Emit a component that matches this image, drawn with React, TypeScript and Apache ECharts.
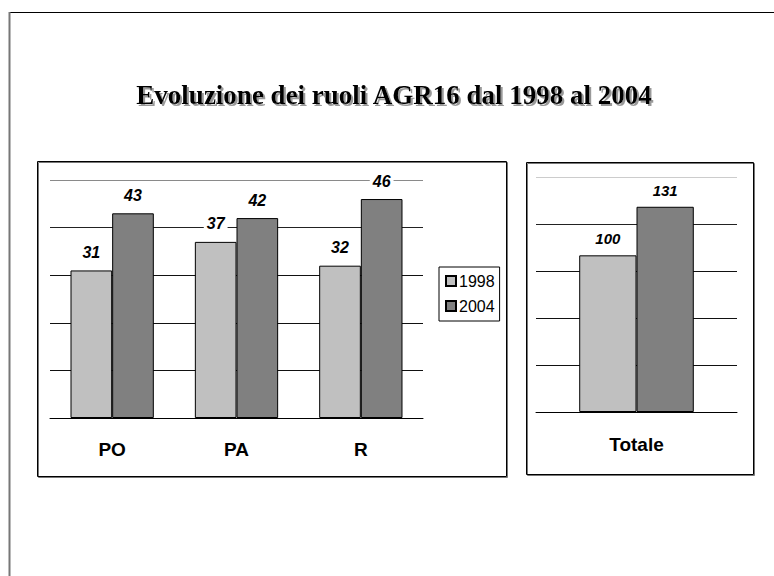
import React, { useEffect, useRef } from "react";
import * as echarts from "echarts";

const title = "Evoluzione dei ruoli AGR16 dal 1998 al 2004";
const categories = ["PO", "PA", "R"];
const totalCategory = ["Totale"];
const seriesNames = ["1998", "2004"];
const values1998 = [31, 37, 32];
const values2004 = [43, 42, 46];
const total1998 = [100];
const total2004 = [131];

const LIGHT = "#c0c0c0";
const DARK = "#808080";
const FONT = "'Liberation Sans', Arial, sans-serif";

export default function App() {
  const ref = useRef<HTMLDivElement>(null);
  useEffect(() => {
    document.body.style.margin = "0";
    if (!ref.current) return;
    const chart = echarts.init(ref.current, undefined, { renderer: "svg" });
    const label = (size: number, dist: number) => ({
      show: true,
      position: "top",
      distance: dist,
      fontFamily: FONT,
      fontWeight: "bold",
      fontStyle: "italic",
      fontSize: size,
      color: "#000",
      backgroundColor: "#fff",
      padding: [0, 3],
    });
    const bar = (name: string, data: number[], color: string, idx: number, gap: string, size: number, dist: number) => ({
      type: "bar",
      name,
      data,
      xAxisIndex: idx,
      yAxisIndex: idx,
      barGap: "0%",
      barCategoryGap: gap,
      itemStyle: { color, borderColor: "#000", borderWidth: 1 },
      label: label(size, dist),
      z: 3,
    });
    const xAxis = (idx: number, data: string[], margin: number) => ({
      type: "category",
      gridIndex: idx,
      data,
      axisTick: { show: false },
      axisLine: { show: true, lineStyle: { color: "#000", width: 1 } },
      axisLabel: { fontFamily: FONT, fontWeight: "bold", fontSize: 19, color: "#000", margin },
    });
    const yAxis = (idx: number, max: number, interval: number, topColor: string) => ({
      type: "value",
      gridIndex: idx,
      min: 0,
      max,
      interval,
      axisLabel: { show: false },
      axisLine: { show: false },
      axisTick: { show: false },
      splitLine: {
        show: true,
        lineStyle: { color: ["#111", "#111", "#111", "#111", "#222", topColor], width: 1 },
      },
    });
    chart.setOption({
      animation: false,
      backgroundColor: "#fff",
      grid: [
        { left: 50, top: 180, width: 373, height: 238 },
        { left: 536, top: 177, width: 201, height: 235 },
      ],
      xAxis: [xAxis(0, categories, 22), xAxis(1, totalCategory, 23)],
      yAxis: [yAxis(0, 50, 10, "#8a8a8a"), yAxis(1, 150, 30, "#cccccc")],
      legend: {
        data: seriesNames,
        orient: "vertical",
        left: 439,
        top: 267,
        icon: "rect",
        itemWidth: 10,
        itemHeight: 10,
        itemGap: 9,
        padding: [6, 5, 7, 6],
        borderColor: "#000",
        borderWidth: 1,
        backgroundColor: "#fff",
        textStyle: { fontFamily: FONT, fontSize: 16, color: "#000", padding: [0, 0, 0, -2] },
        selectedMode: false,
      },
      series: [
        bar(seriesNames[0], values1998, LIGHT, 0, "33%", 16, 10),
        bar(seriesNames[1], values2004, DARK, 0, "33%", 16, 10),
        bar(seriesNames[0], total1998, LIGHT, 1, "43%", 15, 9),
        bar(seriesNames[1], total2004, DARK, 1, "43%", 15, 9),
      ],
      graphic: [
        { type: "line", shape: { x1: 9, y1: 12.5, x2: 774, y2: 12.5 }, style: { stroke: "#000", lineWidth: 1 } },
        { type: "line", shape: { x1: 9.5, y1: 12, x2: 9.5, y2: 576 }, style: { stroke: "#777", lineWidth: 2 } },
        {
          type: "text",
          x: 394,
          y: 95,
          style: {
            text: title,
            font: "bold 27px 'Liberation Serif', 'Times New Roman', serif",
            fill: "#000",
            textAlign: "center",
            textVerticalAlign: "middle",
            textShadowColor: "#999",
            textShadowOffsetX: 2,
            textShadowOffsetY: 2,
            textShadowBlur: 1,
          },
        },
        {
          type: "rect",
          shape: { x: 37.5, y: 161.5, width: 469, height: 315 },
          style: { fill: "none", stroke: "#000", lineWidth: 1, shadowColor: "#777", shadowOffsetX: 1, shadowOffsetY: 1 },
        },
        {
          type: "rect",
          shape: { x: 526.5, y: 162.5, width: 227, height: 312 },
          style: { fill: "none", stroke: "#000", lineWidth: 1, shadowColor: "#777", shadowOffsetX: 1, shadowOffsetY: 1 },
        },
      ],
    });
    return () => chart.dispose();
  }, []);
  return <div ref={ref} style={{ width: 774, height: 576 }} />;
}
